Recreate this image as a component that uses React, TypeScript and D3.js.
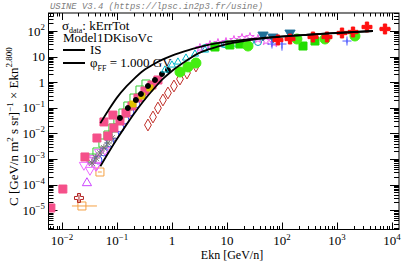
import React from 'react'
import * as d3 from 'd3'

const W = 407
const H = 265
const frame = { left: 48.5, right: 399, top: 13, bottom: 229.5 }

// model curves (IS and force-field modulated, phi = 1 GV)
const curveE = [0.05, 0.07, 0.1, 0.15, 0.2, 0.3, 0.5, 0.7, 1, 2, 3, 5, 10, 20, 50, 100, 300, 1000, 4500]
const isVal = [0.025, 0.08, 0.25, 0.7, 1.3, 2.8, 5.5, 8, 11, 18, 23, 30, 38, 45, 55, 62, 72, 84, 100]
const toaVal = [5.2e-4, 1.75e-3, 6.0e-3, 0.0225, 0.055, 0.176, 0.65, 1.4, 2.74, 7.8, 13.4, 20.1, 30.7, 40, 52.5, 60.6, 71.5, 83.5, 100]

// data sets
const pinkE = [0.0063, 0.0104, 0.0262, 0.0433, 0.058, 0.0845, 0.0686, 0.0881, 0.1135, 0.146, 0.1875, 0.241, 0.323, 0.433, 0.556]
const pinkV = [1.22e-5, 6.7e-5, 1.2e-3, 6.6e-3, 0.028, 0.052, 0.0079, 0.0163, 0.0305, 0.0626, 0.1175, 0.241, 0.453, 0.778, 1.22]

const orangeE = [0.0231, 0.0491]
const orangeV = [1.46e-5, 3.1e-4]
const orangeELo = [0.0152, 0.045]
const orangeEHi = [0.0433, 0.053]

const violetE = [0.0285]
const violetV = [1.15e-4]

const dredE = [0.0204]
const dredV = [3.0e-5]
const dredVLo = [2.2e-5]
const dredVHi = [4.1e-5]

const greenOpenE = [0.0351, 0.0433, 0.0556, 0.0686, 0.0845, 0.104, 0.1285, 0.158, 0.204, 0.262, 0.337]
const greenOpenV = [0.00109, 0.00188, 0.00422, 0.00866, 0.0163, 0.0334, 0.0626, 0.1175, 0.241, 0.496, 0.851]

const blueOpenE = [0.0452, 0.058, 0.0746, 0.092, 0.1135, 0.14, 0.172, 0.221, 0.285]
const blueOpenV = [0.000914, 0.00188, 0.00422, 0.00866, 0.0163, 0.0334, 0.0685, 0.141, 0.264]

const magTriE = [0.0251, 0.031, 0.0382, 0.0471, 0.0415, 0.0323, 0.0433, 0.0605]
const magTriV = [0.000583, 0.000914, 0.00109, 0.00188, 0.000533, 0.000372, 0.000583, 0.00225]

const greyE = [0.0351, 0.0415, 0.0491, 0.058, 0.0686, 0.0811]
const greyV = [0.000698, 0.00109, 0.00171, 0.00269, 0.00422, 0.0066]

const blackE = [0.1135, 0.158, 0.221, 0.273, 0.366, 0.491, 0.658, 0.845]
const blackV = [0.04, 0.098, 0.202, 0.346, 0.711, 1.22, 2.09, 3.0]

const yellowE = [0.1955, 0.285, 0.398]
const yellowV = [0.141, 0.289, 0.593]

const cyanE = [0.746, 1.0, 1.285, 1.8, 2.62, 3.98, 6.05, 9.2, 14.0]
const cyanV = [3.0, 4.7, 6.15, 8.8, 12.6, 18.1, 23.7, 28.4, 31]

const tealE = [3.98, 6.05, 9.2, 26.2, 36.6]
const tealV = [21.7, 25.9, 31, 37.2, 37.2]

const diamondE = [0.366, 0.452, 0.556, 0.686, 0.845, 1.087, 1.4, 1.875, 2.73]
const diamondV = [0.0213, 0.0437, 0.098, 0.202, 0.379, 0.711, 1.33, 2.28, 4.3]

const bigGreenE = [1.4, 1.955, 2.73, 24.1, 187, 605, 2120]
const bigGreenV = [2.5, 3.93, 5.62, 25.9, 48.7, 48.7, 63.8]

const greenSqE = [6.05, 11.3, 17.2, 241, 398]
const greenSqV = [23.7, 28.4, 31, 25.9, 40.6]
const greenSqVLo = [20, 24, 26, 20, 30]
const greenSqVHi = [27, 33, 36, 32, 50]

const redCrossE = [84.5, 140, 366, 658, 1233, 1955, 3510, 7460]
const redCrossV = [44.5, 48.7, 58.3, 58.3, 83.5, 91.4, 143, 120]
const redCrossVLo = [38, 42, 50, 50, 70, 76, 115, 95]
const redCrossVHi = [52, 56, 67, 67, 100, 110, 180, 150]
const redCrossELo = [72, 120, 310, 560, 1050, 1650, 2900, 5900]
const redCrossEHi = [100, 165, 430, 780, 1450, 2300, 4200, 9500]

const steelE = [45.2, 68.6, 140]
const steelV = [69.8, 58.3, 83.5]

const bluePlusE = [65.8, 100, 1520]
const bluePlusV = [31, 31, 40.6]
const bluePlusVLo = [25, 17, 33]
const bluePlusVHi = [38, 40, 50]

const starE = [3.23, 4.91, 6.86, 9.6, 13.4, 18.75, 26.2, 36.6, 51.2, 71.6]
const starV = [21.7, 28.4, 34, 37.2, 44.5, 53.3, 58.3, 48.7, 40.6, 34]

type Series = {
  E: number[]
  V: number[]
  color: string
  shape: string
  filled: boolean
  size: number
  vLo?: number[]
  vHi?: number[]
  eLo?: number[]
  eHi?: number[]
}

const series: Series[] = [
  { E: orangeE, V: orangeV, color: '#f5a042', shape: 'square', filled: false, size: 8, eLo: orangeELo, eHi: orangeEHi },
  { E: violetE, V: violetV, color: '#cc44ff', shape: 'triUp', filled: false, size: 9 },
  { E: dredE, V: dredV, color: '#b22222', shape: 'cross', filled: false, size: 9, vLo: dredVLo, vHi: dredVHi },
  { E: diamondE, V: diamondV, color: '#c0302a', shape: 'diamond', filled: false, size: 9 },
  { E: greenOpenE, V: greenOpenV, color: '#33cc33', shape: 'square', filled: false, size: 8 },
  { E: blueOpenE, V: blueOpenV, color: '#3344ff', shape: 'circle', filled: false, size: 8 },
  { E: magTriE, V: magTriV, color: '#ee66ff', shape: 'triDown', filled: false, size: 9 },
  { E: greyE, V: greyV, color: '#777777', shape: 'asterisk', filled: false, size: 8 },
  { E: pinkE, V: pinkV, color: '#f5508a', shape: 'square', filled: true, size: 8 },
  { E: yellowE, V: yellowV, color: '#e0c000', shape: 'square', filled: true, size: 6 },
  { E: blackE, V: blackV, color: '#000000', shape: 'circle', filled: true, size: 5 },
  { E: cyanE, V: cyanV, color: '#00b8cc', shape: 'triUp', filled: false, size: 7 },
  { E: tealE, V: tealV, color: '#00a0b0', shape: 'circle', filled: false, size: 7 },
  { E: starE, V: starV, color: '#ee55ee', shape: 'star', filled: false, size: 8 },
  { E: greenSqE, V: greenSqV, color: '#22dd00', shape: 'square', filled: true, size: 8, vLo: greenSqVLo, vHi: greenSqVHi },
  { E: bigGreenE, V: bigGreenV, color: '#44ee11', shape: 'circle', filled: true, size: 10 },
  { E: steelE, V: steelV, color: '#1f6f99', shape: 'triDown', filled: true, size: 10 },
  { E: bluePlusE, V: bluePlusV, color: '#4f5bff', shape: 'plus', filled: false, size: 9, vLo: bluePlusVLo, vHi: bluePlusVHi },
  { E: redCrossE, V: redCrossV, color: '#ff1010', shape: 'cross', filled: true, size: 10, vLo: redCrossVLo, vHi: redCrossVHi, eLo: redCrossELo, eHi: redCrossEHi },
]

const x = d3.scaleLog().domain([5.7e-3, 1.34e4]).range([frame.left, frame.right])
const y = d3.scaleLog().domain([1.76e-6, 505]).range([frame.bottom, frame.top])

const markerPath = (shape: string, s: number) => {
  const r = s / 2
  switch (shape) {
    case 'square': return d3.symbol(d3.symbolSquare, s * s)()
    case 'circle': return d3.symbol(d3.symbolCircle, Math.PI * r * r)()
    case 'triUp': return d3.symbol(d3.symbolTriangle, s * s * 0.45)()
    case 'triDown': return d3.symbol(d3.symbolTriangle, s * s * 0.45)()
    case 'diamond': return d3.symbol(d3.symbolDiamond, s * s * 0.5)()
    case 'cross': return d3.symbol(d3.symbolCross, s * s * 0.55)()
    case 'star': return d3.symbol(d3.symbolStar, s * s * 0.35)()
    case 'plus': return `M${-r},0H${r}M0,${-r}V${r}`
    case 'asterisk': {
      const d = r * 0.707
      return `M${-r},0H${r}M0,${-r}V${r}M${-d},${-d}L${d},${d}M${-d},${d}L${d},${-d}`
    }
    default: return ''
  }
}

const sup = (k: number) => (k < 0 ? '\u2212' + -k : String(k))

const decLabel = (k: number, fs: number) => {
  if (k === 0) return <tspan>1</tspan>
  if (k === 1) return <tspan>10</tspan>
  return (
    <>
      <tspan>10</tspan>
      <tspan dy={-fs * 0.42} fontSize={fs * 0.68}>{sup(k)}</tspan>
    </>
  )
}

const App = () => {
  const line = d3.line<number>().curve(d3.curveMonotoneX)
  const isPath = line(curveE.map((e, i) => [x(e), y(isVal[i])] as any) as any)
  const toaPath = line(curveE.map((e, i) => [x(e), y(toaVal[i])] as any) as any)

  const xDecades = d3.range(-2, 5)
  const yDecades = d3.range(-5, 3)
  const xMinor: number[] = []
  for (let k = -3; k <= 4; k++) for (let m = 2; m <= 9; m++) {
    const v = m * Math.pow(10, k)
    if (v > 5.7e-3 && v < 1.34e4) xMinor.push(v)
  }
  const yMinor: number[] = []
  for (let k = -6; k <= 2; k++) for (let m = 2; m <= 9; m++) {
    const v = m * Math.pow(10, k)
    if (v > 1.76e-6 && v < 505) yMinor.push(v)
  }

  const font = '"Liberation Serif", "Times New Roman", serif'
  const fs = 13

  return (
    <svg width={W} height={H} style={{ position: 'absolute', left: 0, top: 0, background: '#fff' }}
      fontFamily={font}>
      <text x={50} y={9} fontFamily='"Liberation Mono", monospace' fontStyle="italic" fontSize={8.9} fill="#808080">
        USINE V3.4 (https://lpsc.in2p3.fr/usine)
      </text>

      <defs>
        <clipPath id="clip">
          <rect x={frame.left} y={frame.top} width={frame.right - frame.left} height={frame.bottom - frame.top} />
        </clipPath>
      </defs>

      {/* ticks */}
      <g stroke="#000" strokeWidth={1}>
        {xDecades.map(k => {
          const px = Math.round(x(Math.pow(10, k))) + 0.5
          return <g key={'xd' + k}>
            <line x1={px} x2={px} y1={frame.bottom} y2={frame.bottom - 7} />
            <line x1={px} x2={px} y1={frame.top} y2={frame.top + 7} />
          </g>
        })}
        {xMinor.map((v, i) => {
          const px = Math.round(x(v)) + 0.5
          return <g key={'xm' + i}>
            <line x1={px} x2={px} y1={frame.bottom} y2={frame.bottom - 3.5} />
            <line x1={px} x2={px} y1={frame.top} y2={frame.top + 3.5} />
          </g>
        })}
        {yDecades.map(k => {
          const py = Math.round(y(Math.pow(10, k))) + 0.5
          return <g key={'yd' + k}>
            <line y1={py} y2={py} x1={frame.left} x2={frame.left + 9} />
            <line y1={py} y2={py} x1={frame.right} x2={frame.right - 9} />
          </g>
        })}
        {yMinor.map((v, i) => {
          const py = Math.round(y(v)) + 0.5
          return <g key={'ym' + i}>
            <line y1={py} y2={py} x1={frame.left} x2={frame.left + 5} />
            <line y1={py} y2={py} x1={frame.right} x2={frame.right - 5} />
          </g>
        })}
      </g>

      {/* tick labels */}
      {xDecades.map(k => (
        <text key={'xl' + k} x={x(Math.pow(10, k))} y={245} fontSize={fs} textAnchor="middle">{decLabel(k, fs)}</text>
      ))}
      {yDecades.map(k => (
        <text key={'yl' + k} x={45} y={y(Math.pow(10, k)) + 4.5} fontSize={fs} textAnchor="end">{decLabel(k, fs)}</text>
      ))}

      <text x={232} y={259} fontSize={12} textAnchor="middle">Ekn [GeV/n]</text>
      <text transform="translate(18,206) rotate(-90)" fontSize={fs} textAnchor="start">
        <tspan>C  [GeV/n m</tspan>
        <tspan dy={-5} fontSize={9}>2</tspan>
        <tspan dy={5}> s sr]</tspan>
        <tspan dy={-5} fontSize={9}>{'\u22121'}</tspan>
        <tspan dy={5}> {'\u00d7'} Ekn</tspan>
        <tspan dy={-6} fontSize={9}>2.800</tspan>
      </text>

      {/* legend */}
      <text x={62} y={30} fontSize={fs}>
        <tspan>{'\u03c3'}</tspan>
        <tspan dy={2.5} fontSize={8}>data</tspan>
        <tspan dy={-2.5}>: kErrTot</tspan>
      </text>
      <text x={63} y={42} fontSize={fs}>Model1DKisoVc</text>
      <line x1={63} x2={85} y1={50} y2={50} stroke="#000" strokeWidth={2} />
      <text x={90} y={54} fontSize={fs}>IS</text>
      <line x1={63} x2={85} y1={63} y2={63} stroke="#000" strokeWidth={2} />
      <text x={90} y={67} fontSize={fs}>
        <tspan>{'\u03c6'}</tspan>
        <tspan dy={3.5} fontSize={8}>FF</tspan>
        <tspan dy={-3.5}> = 1.000 GV</tspan>
      </text>

      {/* data */}
      <g clipPath="url(#clip)">
        {series.map((s, si) => (
          <g key={'s' + si} stroke={s.color} fill={s.filled ? s.color : 'none'} strokeWidth={1}>
            {s.E.map((e, i) => {
              const px = x(e)
              const py = y(s.V[i])
              return <g key={i}>
                {s.vLo && <line x1={px} x2={px} y1={y(s.vLo[i])} y2={y(s.vHi![i])} />}
                {s.eLo && <line x1={x(s.eLo[i])} x2={x(s.eHi![i])} y1={py} y2={py} />}
                <path d={markerPath(s.shape, s.size) || ''}
                  transform={`translate(${px},${py})${s.shape === 'triDown' ? ' rotate(180)' : ''}`} />
              </g>
            })}
          </g>
        ))}
        <path d={isPath || ''} fill="none" stroke="#000" strokeWidth={1.8} />
        <path d={toaPath || ''} fill="none" stroke="#000" strokeWidth={1.8} />
      </g>

      <rect x={frame.left} y={frame.top} width={frame.right - frame.left} height={frame.bottom - frame.top}
        fill="none" stroke="#000" strokeWidth={1} />
    </svg>
  )
}

export default App
